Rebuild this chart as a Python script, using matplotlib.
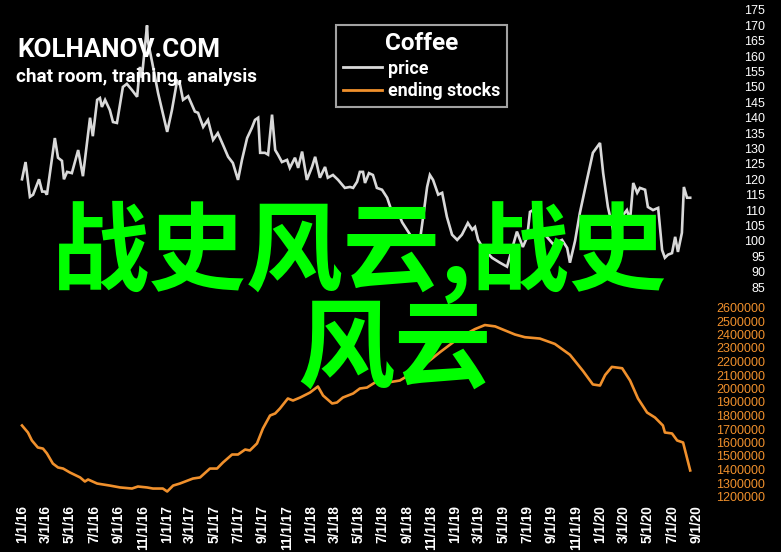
import matplotlib
matplotlib.use("Agg")
import matplotlib.pyplot as plt
import matplotlib.dates as mdates
from matplotlib.lines import Line2D
import pandas as pd
import numpy as np

# ---------------- data ----------------
price_dates = [
    "2016-01-01", "2016-01-10", "2016-01-21", "2016-01-29", "2016-02-13", "2016-02-21", "2016-02-28",
    "2016-03-04", "2016-03-24", "2016-04-01", "2016-04-11", "2016-04-16", "2016-04-24", "2016-05-06",
    "2016-05-22", "2016-06-03", "2016-06-21", "2016-06-28", "2016-07-09", "2016-07-16", "2016-07-21",
    "2016-07-29", "2016-08-10", "2016-08-18", "2016-08-28", "2016-09-12", "2016-09-22", "2016-10-05",
    "2016-10-18", "2016-10-25", "2016-10-30", "2016-11-12", "2016-11-14", "2016-11-25", "2016-12-10",
    "2016-12-20", "2017-01-02", "2017-01-14", "2017-01-27", "2017-02-03", "2017-02-11", "2017-02-24",
    "2017-03-13", "2017-03-21", "2017-04-03", "2017-04-15", "2017-04-28", "2017-05-10", "2017-05-23",
    "2017-06-05", "2017-06-17", "2017-06-30", "2017-07-10", "2017-07-23", "2017-08-04", "2017-08-12",
    "2017-08-20", "2017-08-25", "2017-09-06", "2017-09-14", "2017-09-24", "2017-10-02", "2017-10-09",
    "2017-10-19", "2017-11-01", "2017-11-08", "2017-11-21", "2017-11-29", "2017-12-09", "2017-12-21",
    "2018-01-03", "2018-01-11", "2018-01-23", "2018-02-05", "2018-02-12", "2018-02-25", "2018-03-10",
    "2018-03-27", "2018-04-09", "2018-04-17", "2018-04-27", "2018-05-04", "2018-05-12", "2018-05-17",
    "2018-05-27", "2018-06-06", "2018-06-16", "2018-06-29", "2018-07-12", "2018-07-24", "2018-08-06",
    "2018-08-19", "2018-08-31", "2018-09-13", "2018-09-25", "2018-10-03", "2018-10-11", "2018-10-21",
    "2018-10-28", "2018-11-05", "2018-11-18", "2018-11-28", "2018-12-10", "2018-12-23", "2019-01-05",
    "2019-01-17", "2019-02-01", "2019-02-12", "2019-02-19", "2019-02-27", "2019-03-11", "2019-04-03",
    "2019-04-23", "2019-05-11", "2019-06-05", "2019-06-20", "2019-07-01", "2019-07-08", "2019-07-16",
    "2019-07-26", "2019-08-15", "2019-09-04", "2019-09-27", "2019-10-10", "2019-10-17", "2019-10-30",
    "2019-11-11", "2019-11-29", "2019-12-14", "2020-01-01", "2020-01-09", "2020-01-21", "2020-02-03",
    "2020-02-14", "2020-02-26", "2020-03-09", "2020-03-17", "2020-03-25", "2020-04-04", "2020-04-11",
    "2020-04-24", "2020-05-01", "2020-05-14", "2020-05-27", "2020-06-06", "2020-06-13", "2020-06-21",
    "2020-07-01", "2020-07-09", "2020-07-16", "2020-07-26", "2020-07-31", "2020-08-08", "2020-08-16",
]
price_values = [
    120.0, 125.6, 114.3, 115.0, 120.0, 116.0, 116.0,
    115.0, 133.4, 127.0, 126.0, 120.0, 122.4, 122.0,
    129.5, 121.0, 140.0, 134.0, 145.8, 146.4, 143.5,
    145.8, 142.5, 138.6, 138.3, 150.0, 151.0, 149.0,
    146.8, 156.5, 153.0, 170.0, 165.0, 158.0, 148.0,
    142.5, 135.4, 142.5, 152.0, 151.0, 145.8, 147.0,
    142.0, 141.6, 137.0, 139.3, 132.8, 135.0, 131.2,
    127.3, 125.3, 119.8, 126.3, 133.4, 136.7, 139.3,
    140.0, 128.6, 128.6, 128.0, 141.0, 129.5, 128.0,
    125.6, 126.3, 123.7, 127.0, 123.7, 129.0, 119.8,
    124.0, 127.3, 120.5, 124.0, 120.5, 121.4, 119.8,
    117.2, 117.5, 117.2, 119.2, 122.4, 122.4, 118.8,
    122.0, 121.4, 117.2, 116.6, 114.0, 109.4, 110.0,
    106.0, 103.6, 101.0, 99.4, 100.3, 107.8, 117.5,
    121.4, 119.8, 115.0, 115.6, 107.8, 102.0, 100.3,
    102.0, 105.8, 103.6, 104.5, 100.3, 97.7, 94.5,
    92.9, 91.6, 103.0, 98.0, 101.3, 109.4, 110.0,
    106.0, 102.0, 99.0, 100.3, 97.7, 92.9, 100.0,
    109.0, 119.8, 128.6, 131.8, 122.0, 111.0, 103.6,
    102.0, 108.0, 110.0, 106.8, 118.8, 115.6, 117.2,
    116.6, 111.0, 110.0, 110.7, 97.0, 94.5, 95.5,
    96.0, 101.3, 96.4, 102.6, 117.5, 114.0, 114.0,
]

stock_dates = [
    "2016-01-01", "2016-01-16", "2016-01-26", "2016-02-10", "2016-02-23", "2016-03-04", "2016-03-19",
    "2016-04-01", "2016-04-14", "2016-05-01", "2016-05-27", "2016-06-08", "2016-06-16", "2016-07-09",
    "2016-08-10", "2016-09-05", "2016-10-05", "2016-10-20", "2016-11-12", "2016-11-27", "2016-12-22",
    "2017-01-02", "2017-01-17", "2017-02-03", "2017-03-08", "2017-03-26", "2017-04-20", "2017-05-08",
    "2017-05-23", "2017-06-15", "2017-06-30", "2017-07-18", "2017-07-30", "2017-08-17", "2017-09-01",
    "2017-09-19", "2017-10-02", "2017-10-14", "2017-11-03", "2017-11-16", "2017-12-04", "2017-12-29",
    "2018-01-18", "2018-01-31", "2018-02-23", "2018-03-07", "2018-03-22", "2018-04-17", "2018-05-04",
    "2018-05-22", "2018-06-19", "2018-07-12", "2018-08-13", "2018-10-03", "2018-11-23", "2019-01-12",
    "2019-02-19", "2019-03-16", "2019-04-11", "2019-05-06", "2019-05-31", "2019-06-25", "2019-08-02",
    "2019-09-09", "2019-10-17", "2019-11-19", "2019-12-14", "2020-01-01", "2020-01-14", "2020-01-31",
    "2020-02-26", "2020-03-17", "2020-04-06", "2020-04-29", "2020-05-19", "2020-06-08", "2020-06-13",
    "2020-07-01", "2020-07-14", "2020-07-29", "2020-08-16",
]
stock_values = [
    1726000, 1674000, 1615000, 1563000, 1555000, 1519000, 1444000,
    1415000, 1407000, 1378000, 1341000, 1311000, 1326000, 1296000,
    1281000, 1267000, 1259000, 1274000, 1267000, 1259000, 1259000,
    1237000, 1281000, 1296000, 1333000, 1341000, 1407000, 1407000,
    1452000, 1511000, 1511000, 1548000, 1541000, 1593000, 1704000,
    1800000, 1815000, 1852000, 1926000, 1911000, 1933000, 1970000,
    2015000, 1948000, 1889000, 1896000, 1933000, 1963000, 2000000,
    2007000, 2059000, 2044000, 2059000, 2150000, 2270000, 2380000,
    2440000, 2470000, 2460000, 2430000, 2400000, 2380000, 2370000,
    2330000, 2250000, 2130000, 2030000, 2022000, 2100000, 2160000,
    2150000, 2059000, 1926000, 1822000, 1785000, 1726000, 1674000,
    1667000, 1615000, 1600000, 1393000,
]

price_ticks = list(range(85, 176, 5))
stock_ticks = list(range(1200000, 2600001, 100000))
x_tick_dates = pd.date_range("2016-01-01", "2020-09-01", freq="2MS")
x_tick_labels = [f"{d.month}/{d.day}/{d.year % 100}" for d in x_tick_dates]

legend_title = "Coffee"
series_names = ["price", "ending stocks"]
brand = "KOLHANOV.COM"
tagline = "chat room, training, analysis"
overlay_line1 = "战史风云,战史"
overlay_line2 = "风云"

# ---------------- styling ----------------
W, H = 781, 552
BG = "black"
PRICE_C = "#d9d9d9"
STOCK_C = "#f0902c"
GREEN = "#00ff00"

fig = plt.figure(figsize=(W / 100, H / 100), dpi=100, facecolor=BG)

def px_rect(x0, y0, x1, y1):
    return [x0 / W, 1 - y1 / H, (x1 - x0) / W, (y1 - y0) / H]

# x mapping: 1/1/16 at px 22, 1/1/20 at px 600
d0 = mdates.date2num(pd.Timestamp("2016-01-01"))
d1 = mdates.date2num(pd.Timestamp("2020-01-01"))
ppd = (600 - 22) / (d1 - d0)
AX_L, AX_R = 10, 700
xlim = (d0 + (AX_L - 22) / ppd, d0 + (AX_R - 22) / ppd)

ax_p = fig.add_axes(px_rect(AX_L, 10, AX_R, 287))
ax_s = fig.add_axes(px_rect(AX_L, 307.5, AX_R, 496.5))

pd_dates = pd.to_datetime(price_dates)
sd_dates = pd.to_datetime(stock_dates)

ax_p.plot(pd_dates, price_values, color=PRICE_C, lw=1.9, solid_joinstyle="miter")
ax_s.plot(sd_dates, stock_values, color=STOCK_C, lw=1.9)

tick_font = dict(family="Liberation Sans")
for ax in (ax_p, ax_s):
    ax.set_facecolor("none")
    ax.set_xlim(*xlim)
    for sp in ax.spines.values():
        sp.set_visible(False)
    ax.yaxis.tick_right()
    ax.tick_params(axis="y", length=0, pad=65 * 0.72)

ax_p.set_ylim(85, 175)
ax_p.set_yticks(price_ticks)
ax_p.set_yticklabels([str(t) for t in price_ticks], color="white", fontsize=9,
                     ha="right", **tick_font)
ax_p.set_xticks([])

ax_s.set_ylim(1200000, 2600000)
ax_s.set_yticks(stock_ticks)
ax_s.set_yticklabels([str(t) for t in stock_ticks], color=STOCK_C, fontsize=9,
                     ha="right", **tick_font)
ax_s.set_xticks(mdates.date2num(x_tick_dates))
ax_s.set_xticklabels(x_tick_labels, rotation=90, color="white", fontsize=9.8,
                     fontweight="bold", ha="center", va="top", **tick_font)
ax_s.tick_params(axis="x", length=0, pad=6)

# brand text
fig.text(17 / W, 1 - 57 / H, brand, color="white", fontsize=18.7, fontweight="bold",
         family="Roboto", ha="left", va="baseline")
fig.text(16 / W, 1 - 82 / H, tagline, color="white", fontsize=13.7, fontweight="bold",
         family="Roboto", ha="left", va="baseline")

# legend
handles = [Line2D([], [], color=PRICE_C, lw=2), Line2D([], [], color=STOCK_C, lw=2)]
leg = fig.legend(handles, series_names, title=legend_title, loc="upper left",
                 bbox_to_anchor=(336 / W, 1 - 25 / H), borderaxespad=0,
                 frameon=True, fancybox=False, facecolor=BG, edgecolor="#cccccc",
                 prop=dict(family="Roboto", weight="bold", size=12.8),
                 title_fontproperties=dict(family="Roboto", weight="bold", size=17.5),
                 labelcolor="white", handlelength=2.2, handletextpad=0.3,
                 labelspacing=0.25, borderpad=0.4)
leg.get_title().set_color("white")
leg.get_frame().set_linewidth(1.5)

# overlay text
cjk = ["Noto Sans CJK SC", "DejaVu Sans"]
fig.text(52 / W, 1 - 283 / H, overlay_line1, color=GREEN, fontsize=70, family=cjk,
         fontweight="bold", ha="left", va="baseline")
fig.text(297 / W, 1 - 380 / H, overlay_line2, color=GREEN, fontsize=70, family=cjk,
         fontweight="bold", ha="left", va="baseline")

fig.savefig("out.png", dpi=100, facecolor=BG)
